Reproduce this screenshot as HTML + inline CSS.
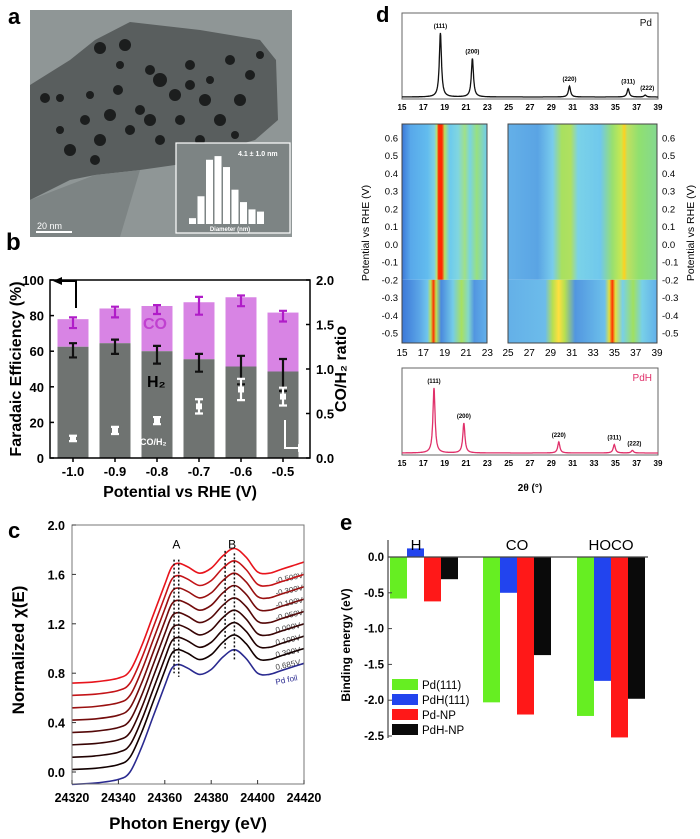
<!DOCTYPE html>
<html><head><meta charset="utf-8"><style>
html,body{margin:0;padding:0;background:#fff;}
svg{display:block;font-family:"Liberation Sans",Arial,sans-serif;}
</style></head><body>
<svg id="fig" width="700" height="839" viewBox="0 0 700 839" xmlns="http://www.w3.org/2000/svg">
<defs>
<linearGradient id="hlt" x1="0" x2="1" y1="0" y2="0">
<stop offset="0" stop-color="#3c78d8"/><stop offset="0.1" stop-color="#58a8ea"/><stop offset="0.3" stop-color="#62bcee"/><stop offset="0.38" stop-color="#80d0e4"/><stop offset="0.41" stop-color="#b8e070"/><stop offset="0.43" stop-color="#ff2a00"/><stop offset="0.47" stop-color="#ff2a00"/><stop offset="0.5" stop-color="#b8e060"/><stop offset="0.56" stop-color="#6ccaee"/><stop offset="0.66" stop-color="#80d6e0"/><stop offset="0.74" stop-color="#a0e088"/><stop offset="0.8" stop-color="#7ad4e0"/><stop offset="0.88" stop-color="#98e080"/><stop offset="1" stop-color="#70ccee"/></linearGradient>
<linearGradient id="hlb" x1="0" x2="1" y1="0" y2="0">
<stop offset="0" stop-color="#3c78d8"/><stop offset="0.2" stop-color="#5aa4e6"/><stop offset="0.3" stop-color="#70c6ec"/><stop offset="0.34" stop-color="#c0e050"/><stop offset="0.37" stop-color="#ff3000"/><stop offset="0.4" stop-color="#c0e050"/><stop offset="0.46" stop-color="#4a8ade"/><stop offset="0.6" stop-color="#74cce8"/><stop offset="0.7" stop-color="#a8e060"/><stop offset="0.78" stop-color="#84d8c8"/><stop offset="0.85" stop-color="#5296e0"/><stop offset="1" stop-color="#62b0ea"/></linearGradient>
<linearGradient id="hrt" x1="0" x2="1" y1="0" y2="0">
<stop offset="0" stop-color="#64b0e8"/><stop offset="0.2" stop-color="#5aa4e4"/><stop offset="0.3" stop-color="#78ccec"/><stop offset="0.36" stop-color="#a8e060"/><stop offset="0.42" stop-color="#b0e060"/><stop offset="0.47" stop-color="#7ad2e8"/><stop offset="0.62" stop-color="#70c8ec"/><stop offset="0.7" stop-color="#98e070"/><stop offset="0.76" stop-color="#c8e850"/><stop offset="0.78" stop-color="#ffd020"/><stop offset="0.8" stop-color="#c0e060"/><stop offset="0.88" stop-color="#90e070"/><stop offset="1" stop-color="#84d890"/></linearGradient>
<linearGradient id="hrb" x1="0" x2="1" y1="0" y2="0">
<stop offset="0" stop-color="#64b0e8"/><stop offset="0.25" stop-color="#6cbcea"/><stop offset="0.3" stop-color="#b8e050"/><stop offset="0.34" stop-color="#ffe040"/><stop offset="0.38" stop-color="#b8e050"/><stop offset="0.45" stop-color="#5296e0"/><stop offset="0.65" stop-color="#6cc0ea"/><stop offset="0.68" stop-color="#e0e040"/><stop offset="0.7" stop-color="#ff3000"/><stop offset="0.72" stop-color="#e0e040"/><stop offset="0.77" stop-color="#78d0e8"/><stop offset="0.84" stop-color="#a0e060"/><stop offset="0.9" stop-color="#78d0e8"/><stop offset="1" stop-color="#62b0ea"/></linearGradient>
</defs>
<g id="pa"></g>
<g id="pb"></g>
<g id="pc"></g>
<g id="pd"></g>
<g id="pe"></g>
</svg>
<script>
const NS='http://www.w3.org/2000/svg';
function mk(tag,attrs,parent){const e=document.createElementNS(NS,tag);for(const k in attrs)e.setAttribute(k,attrs[k]);parent.appendChild(e);return e;}
function tx(str,attrs,parent){const e=mk('text',attrs,parent);e.textContent=str;return e;}

/* ---------- Panel b data ---------- */
const bCategories=['-1.0','-0.9','-0.8','-0.7','-0.6','-0.5'];
const bH2=[62.5,64.5,60,55.5,51.4,48.6];
const bTotal=[78,84,85.4,87.5,90.3,81.7];
const bH2Err=[4,4,5,5,8,9];
const bTotErr=[3,3,2.5,5,3,3];
const bRatio=[0.22,0.31,0.42,0.58,0.77,0.69];
const bRatioErr=[0.03,0.04,0.04,0.08,0.12,0.1];
const bLeftTicks=[0,20,40,60,80,100];
const bRightTicks=['0.0','0.5','1.0','1.5','2.0'];

/* ---------- Panel c data ---------- */
const cEnergy=[24320,24330,24340,24345,24350,24355,24360,24363,24366,24370,24375,24380,24385,24390,24395,24400,24405,24410,24415,24420];
const cFoil=[-0.1,-0.09,-0.06,0.0,0.2,0.45,0.7,0.84,0.87,0.84,0.79,0.83,0.93,0.99,0.92,0.8,0.79,0.82,0.85,0.88];
const cOffsets=[0.82,0.72,0.62,0.52,0.42,0.32,0.22,0.12,0];
const cLabels=['-0.500V','-0.300V','-0.100V','-0.050V','0.000V','0.100V','0.300V','0.685V','Pd foil'];
const cXTicks=[24320,24340,24360,24380,24400,24420];
const cYTicks=['0.0','0.4','0.8','1.2','1.6','2.0'];

/* ---------- Panel d data ---------- */
const dPdPos=[18.6,21.6,30.7,36.2,37.8];
const dPdHeight=[1,0.6,0.17,0.13,0.03];
const dPdHPos=[18.0,20.8,29.7,34.9,36.6];
const dPdHHeight=[1,0.46,0.17,0.13,0.04];
const dPeakLabels=['(111)','(200)','(220)','(311)','(222)'];
const dXTicks=[15,17,19,21,23,25,27,29,31,33,35,37,39];
const dLeftTicks=[15,17,19,21,23];
const dRightTicks=[25,27,29,31,33,35,37,39];
const dPotTicks=[0.6,0.5,0.4,0.3,0.2,0.1,0.0,-0.1,-0.2,-0.3,-0.4,-0.5];

/* ---------- Panel e data ---------- */
const eGroups=['H','CO','HOCO'];
const eSeries=['Pd(111)','PdH(111)','Pd-NP','PdH-NP'];
const ePd111=[-0.58,-2.03,-2.22];
const ePdH111=[0.12,-0.5,-1.73];
const ePdNP=[-0.62,-2.2,-2.52];
const ePdHNP=[-0.31,-1.37,-1.98];
const eYTicks=['0.0','-0.5','-1.0','-1.5','-2.0','-2.5'];

/* ================= Panel a ================= */
(function(){
const g=document.getElementById('pa');
let t=tx('a',{x:8,y:24,'font-size':22,'font-weight':'bold'},g);


let r=mk('rect',{x:30,y:10,width:262,height:227,fill:'#8f9696'},g);


let p=mk('polygon',{points:'30,85 70,60 95,40 130,22 200,30 260,40 276,60 278,120 255,140 220,150 175,165 140,170 95,175 70,180 30,200',fill:'#595e5e'},g);


let p2=mk('polygon',{points:'30,200 95,175 140,170 120,237 30,237',fill:'#7d8484'},g);


const blobs=[[45,98,5],[60,98,4],[90,95,4],[100,48,6],[125,45,6],[150,70,5],[160,80,7],[110,115,6],[130,130,5],[118,90,5],[175,95,6],[190,85,5],[205,100,6],[230,60,5],[250,75,5],[240,100,6],[220,120,6],[160,140,5],[70,150,6],[190,65,5],[140,110,5],[260,55,4],[85,120,5],[100,140,6],[150,120,6],[120,65,4],[210,80,4],[180,120,5],[235,135,4],[60,130,4],[95,160,5],[200,140,5]];
blobs.forEach(b=>{const c=mk('circle',{cx:b[0],cy:b[1],r:b[2],fill:'#1c1e1e'},g);

});
let ib=mk('rect',{x:176,y:143,width:114,height:90,fill:'#7d8484',stroke:'#fff','stroke-width':1.2},g);


const hist=[0.08,0.38,0.88,0.93,0.78,0.47,0.3,0.2,0.17];
hist.forEach((h,i)=>{const b=mk('rect',{x:189+i*8.5,y:224-h*73,width:7,height:h*73,fill:'#fff'},g);

});
let it=tx('4.1 ± 1.0 nm',{x:238,y:156,'font-size':7,'font-weight':'bold',fill:'#fff'},g);


let dl=tx('Diameter (nm)',{x:230,y:231,'font-size':6,'font-weight':'bold',fill:'#fff','text-anchor':'middle'},g);


let sb=mk('line',{x1:36,y1:232,x2:72,y2:232,stroke:'#fff','stroke-width':2},g);


let st=tx('20 nm',{x:37,y:229,'font-size':9,fill:'#fff'},g);


})();

/* ================= Panel b ================= */
(function(){
const g=document.getElementById('pb');
const L=50,R=310,T=280,B=458;
const y=v=>B-(v/100)*(B-T);
const yr=v=>B-(v/2)*(B-T);
const x=i=>73+i*42;
const bw=31;
let t=tx('b',{x:6,y:250,'font-size':24,'font-weight':'bold'},g);


bCategories.forEach((c,i)=>{
 let co=mk('rect',{x:x(i)-bw/2,y:y(bTotal[i]),width:bw,height:y(bH2[i])-y(bTotal[i]),fill:'#d884e4'},g);
 
 
 let h=mk('rect',{x:x(i)-bw/2,y:y(bH2[i]),width:bw,height:B-y(bH2[i]),fill:'#6f7371'},g);
 
 
 [[bTotal[i]-2,bTotErr[i],'#b01cc8',y],[bH2[i]-2,bH2Err[i],'#111',y],[bRatio[i],bRatioErr[i],'#fff',yr]].forEach(a=>{
  const yy=a[3];const e=mk('path',{d:`M${x(i)},${yy(a[0]+a[1])}V${yy(a[0]-a[1])}M${x(i)-4},${yy(a[0]+a[1])}h8M${x(i)-4},${yy(a[0]-a[1])}h8`,stroke:a[2],'stroke-width':2.2,fill:'none'},g);
  
  
 });
 let pt=mk('rect',{x:x(i)-3,y:yr(bRatio[i])-3,width:6,height:6,fill:'#fff'},g);
 
 
 let tl=tx(c,{x:x(i),y:B+18,'font-size':13,'font-weight':'bold','text-anchor':'middle'},g);
 
 
 let tk=mk('line',{x1:x(i),y1:B,x2:x(i),y2:B+4,stroke:'#000','stroke-width':1.5},g);
 
 
});
let fr=mk('rect',{x:L,y:T,width:R-L,height:B-T,fill:'none',stroke:'#000','stroke-width':1.5},g);


bLeftTicks.forEach(v=>{
 let l=tx(String(v),{x:L-6,y:y(v)+5,'font-size':13,'font-weight':'bold','text-anchor':'end'},g);
 
 
 let k=mk('line',{x1:L,y1:y(v),x2:L+4,y2:y(v),stroke:'#000','stroke-width':1.5},g);
 
 
});
bRightTicks.forEach(v=>{
 let l=tx(v,{x:R+6,y:yr(+v)+5,'font-size':13,'font-weight':'bold'},g);
 
 
 let k=mk('line',{x1:R,y1:yr(+v),x2:R-4,y2:yr(+v),stroke:'#000','stroke-width':1.5},g);
 
 
});
let yl=tx('Faradaic Efficiency (%)',{x:0,y:0,'font-size':16,'font-weight':'bold','text-anchor':'middle',transform:`translate(21,${(T+B)/2}) rotate(-90)`},g);


let yr2=tx('CO/H₂ ratio',{x:0,y:0,'font-size':16,'font-weight':'bold','text-anchor':'middle',transform:`translate(346,${(T+B)/2}) rotate(-90)`},g);


let xl=tx('Potential vs RHE (V)',{x:180,y:497,'font-size':16,'font-weight':'bold','text-anchor':'middle'},g);


let c1=tx('CO',{x:143,y:329,'font-size':16,'font-weight':'bold',fill:'#c040d0'},g);


let h2=tx('H₂',{x:147,y:387,'font-size':16,'font-weight':'bold',fill:'#000'},g);


let rl=tx('CO/H₂',{x:140,y:445,'font-size':9,'font-weight':'bold',fill:'#fff'},g);


let a1=mk('path',{d:'M76,308V281H60',stroke:'#000','stroke-width':2,fill:'none'},g);


let a1h=mk('polygon',{points:'53,281 62,277 62,285',fill:'#000'},g);


let a2=mk('path',{d:'M285,420V448H300',stroke:'#fff','stroke-width':2,fill:'none'},g);


let a2h=mk('polygon',{points:'307,448 298,444 298,452',fill:'#fff'},g);


})();

/* ================= Panel c ================= */
(function(){
const g=document.getElementById('pc');
const L=72,R=304,T=525,B=784;
const x=e=>L+(e-24320)/100*(R-L);
const y=v=>772-v*123.5;
let t=tx('c',{x:8,y:538,'font-size':22,'font-weight':'bold'},g);


const cols=['#e8141c','#c41418','#9a1010','#740c0c','#540808','#380404','#220202','#120000','#2a2a90'];
function smooth(pts){let d='M'+pts[0][0].toFixed(1)+','+pts[0][1].toFixed(1);
 for(let i=0;i<pts.length-1;i++){const p0=pts[Math.max(0,i-1)],p1=pts[i],p2=pts[i+1],p3=pts[Math.min(pts.length-1,i+2)];
  const c1=[p1[0]+(p2[0]-p0[0])/6,p1[1]+(p2[1]-p0[1])/6],c2=[p2[0]-(p3[0]-p1[0])/6,p2[1]-(p3[1]-p1[1])/6];
  d+=`C${c1[0].toFixed(1)},${c1[1].toFixed(1)} ${c2[0].toFixed(1)},${c2[1].toFixed(1)} ${p2[0].toFixed(1)},${p2[1].toFixed(1)}`;}
 return d;}
cOffsets.forEach((o,k)=>{
 const pts=cEnergy.map((e,i)=>[x(e),y(cFoil[i]+o)]);
 let p=mk('path',{d:smooth(pts),stroke:cols[k],'stroke-width':1.6,fill:'none'},g);
 
 
 let l=tx(cLabels[k],{x:0,y:0,'font-size':8,fill:k==8?'#2a2a90':'#444',transform:`translate(${x(24408)},${y(cFoil[17]+o)+14}) rotate(-12)`},g);
 
 
});
[[24364,1.72,0.8],[24366,1.72,0.77],[24386,1.79,1.0],[24390,1.77,0.9]].forEach(a=>{
 let l=mk('line',{x1:x(a[0]),y1:y(a[1]),x2:x(a[0]),y2:y(a[2]),stroke:'#111','stroke-width':1.5,'stroke-dasharray':'2,2'},g);
 
 
});
let A=tx('A',{x:x(24365),y:y(1.81),'font-size':12,'text-anchor':'middle'},g);


let Bl=tx('B',{x:x(24389),y:y(1.81),'font-size':12,'text-anchor':'middle'},g);


let fr=mk('rect',{x:L,y:T,width:R-L,height:B-T,fill:'none',stroke:'#777','stroke-width':1},g);


cXTicks.forEach(v=>{
 let l=tx(String(v),{x:x(v),y:B+18,'font-size':12.5,'font-weight':'bold','text-anchor':'middle'},g);
 
 
 let k=mk('line',{x1:x(v),y1:B,x2:x(v),y2:B-4,stroke:'#333'},g);
 
 
});
cYTicks.forEach(v=>{
 let l=tx(v,{x:L-7,y:y(+v)+5,'font-size':12.5,'font-weight':'bold','text-anchor':'end'},g);
 
 
 let k=mk('line',{x1:L,y1:y(+v),x2:L+4,y2:y(+v),stroke:'#333'},g);
 
 
});
let yl=tx('Normalized χ(E)',{x:0,y:0,'font-size':17,'font-weight':'bold','text-anchor':'middle',transform:`translate(24,650) rotate(-90)`},g);


let xl=tx('Photon Energy (eV)',{x:188,y:829,'font-size':17,'font-weight':'bold','text-anchor':'middle'},g);


})();

/* ================= Panel d ================= */
(function(){
const g=document.getElementById('pd');
const x=v=>402+(v-15)*(256/24);
let t=tx('d',{x:376,y:22,'font-size':22,'font-weight':'bold'},g);


function pattern(top,bot,base,amp,pos,hts,col,name,title){
 let fr=mk('rect',{x:402,y:top,width:256,height:bot-top,fill:'none',stroke:'#666'},g);
 
 
 let d='';
 for(let s=0;s<=960;s++){const v=15+s*0.025;let sum=0;pos.forEach((p,i)=>{sum+=hts[i]/(1+Math.pow((v-p)/0.12,2));});d+=(s?'L':'M')+x(v).toFixed(1)+','+(base-sum*amp).toFixed(1);}
 let p=mk('path',{d:d,stroke:col,'stroke-width':1.3,fill:'none'},g);
 
 
 pos.forEach((ps,i)=>{
  let l=tx(dPeakLabels[i],{x:x(ps)+(i==4?2:0),y:base-hts[i]*amp-5,'font-size':6,'font-weight':'bold','text-anchor':'middle'},g);
  
  
 });
 dXTicks.forEach(v=>{
  let l=tx(String(v),{x:x(v),y:bot+11,'font-size':8,'font-weight':'bold','text-anchor':'middle'},g);
  
  
 });
 let tl=tx(title,{x:652,y:top+13,'font-size':10,'text-anchor':'end',fill:col==='#111'?'#111':'#e0306a'},g);
 
 
}
pattern(13,99,97,64,dPdPos,dPdHeight,'#111','pd','Pd');
pattern(368,455,453,65,dPdHPos,dPdHHeight,'#e0306a','pdh','PdH');
const yp=v=>138+(0.6-v)*(195/1.1);
const ys=yp(-0.2);
[['hlt',402,85,124,ys-124],['hlb',402,85,ys,343-ys],['hrt',508,149,124,ys-124],['hrb',508,149,ys,343-ys]].forEach(a=>{
 let r=mk('rect',{x:a[1],y:a[3],width:a[2],height:a[4],fill:`url(#${a[0]})`},g);
 
 
});
[[402,85],[508,149]].forEach(a=>{
 let r=mk('rect',{x:a[0],y:124,width:a[1],height:219,fill:'none',stroke:'#444'},g);
 
 
});
dLeftTicks.forEach(v=>{let l=tx(String(v),{x:x(v),y:356,'font-size':10,'text-anchor':'middle'},g);
 
 });
dRightTicks.forEach(v=>{let l=tx(String(v),{x:508+(v-25)*(149/14),y:356,'font-size':10,'text-anchor':'middle'},g);
 
 });
dPotTicks.forEach(v=>{
 const s=v.toFixed(1);
 let l=tx(s,{x:398,y:yp(v)+3.5,'font-size':9.5,'text-anchor':'end'},g);
 
 
 let r=tx(s,{x:662,y:yp(v)+3.5,'font-size':9.5},g);
 
 
});
let y1=tx('Potential vs RHE (V)',{x:0,y:0,'font-size':10.5,'text-anchor':'middle',transform:'translate(369,233) rotate(-90)'},g);


let y2=tx('Potential vs RHE (V)',{x:0,y:0,'font-size':10.5,'text-anchor':'middle',transform:'translate(694,233) rotate(-90)'},g);


let xl=tx('2θ (°)',{x:530,y:491,'font-size':10,'font-weight':'bold','text-anchor':'middle'},g);


})();

/* ================= Panel e ================= */
(function(){
const g=document.getElementById('pe');
const y=v=>557-v*(179/2.5);
const bw=17;
const gx=[390,483,577];
const series=[ePd111,ePdH111,ePdNP,ePdHNP];
const cols=['#66ee22','#2244ee','#ff1818','#0a0a0a'];
let t=tx('e',{x:340,y:530,'font-size':22,'font-weight':'bold'},g);


series.forEach((s,k)=>{s.forEach((v,i)=>{
 const top=Math.min(y(v),y(0)),h=Math.abs(y(v)-y(0));
 let r=mk('rect',{x:gx[i]+k*bw,y:top,width:bw,height:h,fill:cols[k]},g);
 
 
});});
let ax=mk('line',{x1:388,y1:540,x2:388,y2:738,stroke:'#444','stroke-width':1.2},g);


let zl=mk('line',{x1:388,y1:y(0),x2:648,y2:y(0),stroke:'#444','stroke-width':1.2},g);


eYTicks.forEach(v=>{
 let l=tx(v,{x:384,y:y(+v)+4,'font-size':11.5,'font-weight':'bold','text-anchor':'end'},g);
 
 
 let k=mk('line',{x1:388,y1:y(+v),x2:392,y2:y(+v),stroke:'#444'},g);
 
 
});
[[416,'H'],[517,'CO'],[611,'HOCO']].forEach((a,i)=>{
 let l=tx(eGroups[i],{x:a[0],y:550,'font-size':15,'text-anchor':'middle'},g);
 
 
});
eSeries.forEach((s,k)=>{
 let r=mk('rect',{x:392,y:679+k*15,width:26,height:11,fill:cols[k]},g);
 
 
 let l=tx(s,{x:422,y:689+k*15,'font-size':11.5},g);
 
 
});
let yl=tx('Binding energy (eV)',{x:0,y:0,'font-size':12,'font-weight':'bold','text-anchor':'middle',transform:'translate(350,645) rotate(-90)'},g);


})();
</script>
</body></html>
